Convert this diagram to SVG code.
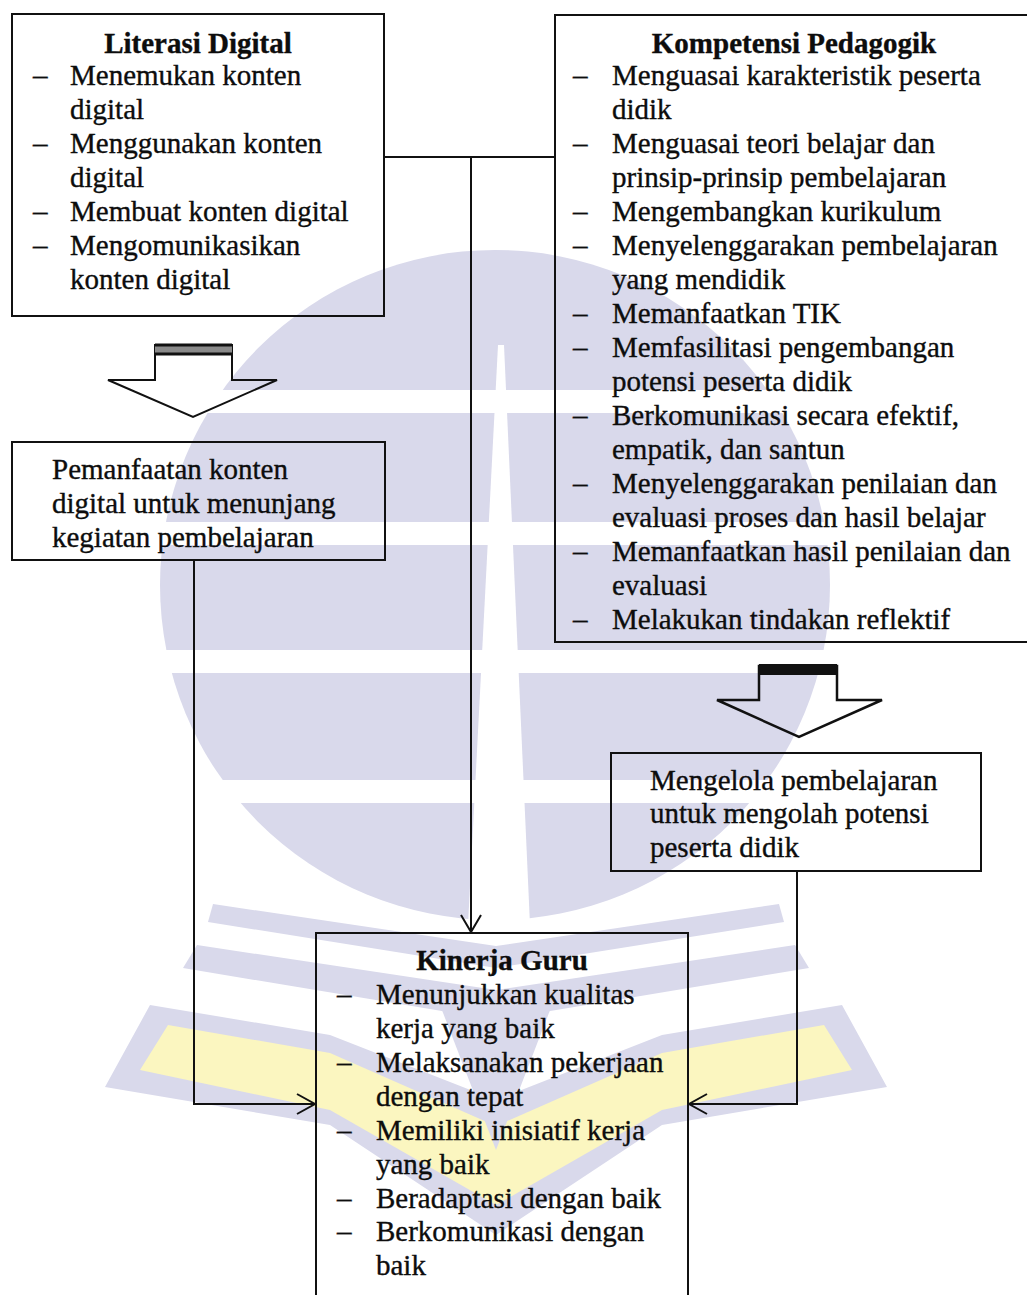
<svg xmlns="http://www.w3.org/2000/svg" width="1027" height="1295" viewBox="0 0 1027 1295">
<style>
.t{font-family:"Liberation Serif","Times New Roman",serif;font-size:29px;fill:#0d0d0d;stroke:#0d0d0d;stroke-width:0.35px}
.b{font-weight:bold}
.m{text-anchor:middle}
.box{fill:none;stroke:#111;stroke-width:2}
.ln{fill:none;stroke:#111;stroke-width:2}
.ah{fill:none;stroke:#111;stroke-width:2;stroke-linejoin:miter}
.wm{fill:#d9d9eb}
.wy{fill:#fbf6c0}
.ww{fill:#ffffff}
</style>
<defs>
<g id="bookHalf">
<polygon class="wm" points="213,904 496,946 496,968 208,922"/>
<polygon class="wm" points="197,945 496,990 496,1020 183,968"/>
<polygon class="wm" points="150,1005 330,1035 496,1100 496,1235 330,1125 105,1087"/>
<polygon class="wy" points="168,1025 330,1053 496,1126 496,1205 330,1110 140,1070"/>
<polygon class="wm" points="440,1005 496,1005 496,1150"/>
</g>
</defs>
<rect width="1027" height="1295" fill="#ffffff"/>
<g id="watermark">
<circle class="wm" cx="495" cy="585" r="335"/>
<rect class="ww" x="150" y="390" width="700" height="23"/>
<rect class="ww" x="150" y="522" width="700" height="23"/>
<rect class="ww" x="150" y="650" width="700" height="23"/>
<rect class="ww" x="150" y="780" width="700" height="23"/>
<polygon class="ww" points="498,345 504,345 530,925 468,925"/>
<use href="#bookHalf"/>
<use href="#bookHalf" transform="translate(992,0) scale(-1,1)"/>
</g>
<g id="connectors">
<path class="ln" d="M384,157 H555"/>
<path class="ln" d="M471,157 V931"/>
<polyline class="ah" points="461,915 471,932 481,915"/>
<path class="ln" d="M194,560 V1104 H314"/>
<polyline class="ah" points="297,1094 315,1104 297,1114"/>
<path class="ln" d="M797,871 V1104 H690"/>
<polyline class="ah" points="707,1094 689,1104 707,1114"/>
<g id="blockArrowLeft">
<polygon points="155,345 232,345 232,380 277,380 193,417 108,380 155,380" fill="none" stroke="#111" stroke-width="2"/>
<rect x="155" y="344" width="77" height="11" fill="#8a8a8a"/>
<line x1="155" y1="345" x2="232" y2="345" stroke="#111" stroke-width="3"/>
<line x1="155" y1="354" x2="232" y2="354" stroke="#111" stroke-width="3"/>
</g>
<g id="blockArrowRight">
<polygon points="759,666 837,666 837,700 882,700 799,737 717,700 759,700" fill="none" stroke="#111" stroke-width="2.5"/>
<rect x="759" y="664" width="78" height="11" fill="#111"/>
</g>
</g>
<g id="literasi-digital">
<rect class="box" x="12" y="14" width="372" height="302"/>
<text class="t b m" x="198" y="53">Literasi Digital</text>
<text class="t" x="33" y="85">–</text><text class="t" x="70" y="85">Menemukan konten</text>
<text class="t" x="70" y="119">digital</text>
<text class="t" x="33" y="153">–</text><text class="t" x="70" y="153">Menggunakan konten</text>
<text class="t" x="70" y="187">digital</text>
<text class="t" x="33" y="221">–</text><text class="t" x="70" y="221">Membuat konten digital</text>
<text class="t" x="33" y="255">–</text><text class="t" x="70" y="255">Mengomunikasikan</text>
<text class="t" x="70" y="289">konten digital</text>
</g>
<g id="kompetensi-pedagogik">
<rect class="box" x="555" y="15" width="480" height="627"/>
<text class="t b m" x="794" y="53">Kompetensi Pedagogik</text>
<text class="t" x="573" y="85">–</text><text class="t" x="612" y="85">Menguasai karakteristik peserta</text>
<text class="t" x="612" y="119">didik</text>
<text class="t" x="573" y="153">–</text><text class="t" x="612" y="153">Menguasai teori belajar dan</text>
<text class="t" x="612" y="187">prinsip-prinsip pembelajaran</text>
<text class="t" x="573" y="221">–</text><text class="t" x="612" y="221">Mengembangkan kurikulum</text>
<text class="t" x="573" y="255">–</text><text class="t" x="612" y="255">Menyelenggarakan pembelajaran</text>
<text class="t" x="612" y="289">yang mendidik</text>
<text class="t" x="573" y="323">–</text><text class="t" x="612" y="323">Memanfaatkan TIK</text>
<text class="t" x="573" y="357">–</text><text class="t" x="612" y="357">Memfasilitasi pengembangan</text>
<text class="t" x="612" y="391">potensi peserta didik</text>
<text class="t" x="573" y="425">–</text><text class="t" x="612" y="425">Berkomunikasi secara efektif,</text>
<text class="t" x="612" y="459">empatik, dan santun</text>
<text class="t" x="573" y="493">–</text><text class="t" x="612" y="493">Menyelenggarakan penilaian dan</text>
<text class="t" x="612" y="527">evaluasi proses dan hasil belajar</text>
<text class="t" x="573" y="561">–</text><text class="t" x="612" y="561">Memanfaatkan hasil penilaian dan</text>
<text class="t" x="612" y="595">evaluasi</text>
<text class="t" x="573" y="629">–</text><text class="t" x="612" y="629">Melakukan tindakan reflektif</text>
</g>
<g id="pemanfaatan">
<rect class="box" x="12" y="442" width="373" height="118"/>
<text class="t" x="52" y="479">Pemanfaatan konten</text>
<text class="t" x="52" y="513">digital untuk menunjang</text>
<text class="t" x="52" y="547">kegiatan pembelajaran</text>
</g>
<g id="mengelola">
<rect class="box" x="611" y="753" width="370" height="118"/>
<text class="t" x="650" y="790">Mengelola pembelajaran</text>
<text class="t" x="650" y="823">untuk mengolah potensi</text>
<text class="t" x="650" y="857">peserta didik</text>
</g>
<g id="kinerja-guru">
<rect class="box" x="316" y="933" width="372" height="380"/>
<text class="t b m" x="502" y="970">Kinerja Guru</text>
<text class="t" x="337" y="1004">–</text><text class="t" x="376" y="1004">Menunjukkan kualitas</text>
<text class="t" x="376" y="1038">kerja yang baik</text>
<text class="t" x="337" y="1072">–</text><text class="t" x="376" y="1072">Melaksanakan pekerjaan</text>
<text class="t" x="376" y="1106">dengan tepat</text>
<text class="t" x="337" y="1140">–</text><text class="t" x="376" y="1140">Memiliki inisiatif kerja</text>
<text class="t" x="376" y="1174">yang baik</text>
<text class="t" x="337" y="1208">–</text><text class="t" x="376" y="1208">Beradaptasi dengan baik</text>
<text class="t" x="337" y="1241">–</text><text class="t" x="376" y="1241">Berkomunikasi dengan</text>
<text class="t" x="376" y="1275">baik</text>
</g>
</svg>
